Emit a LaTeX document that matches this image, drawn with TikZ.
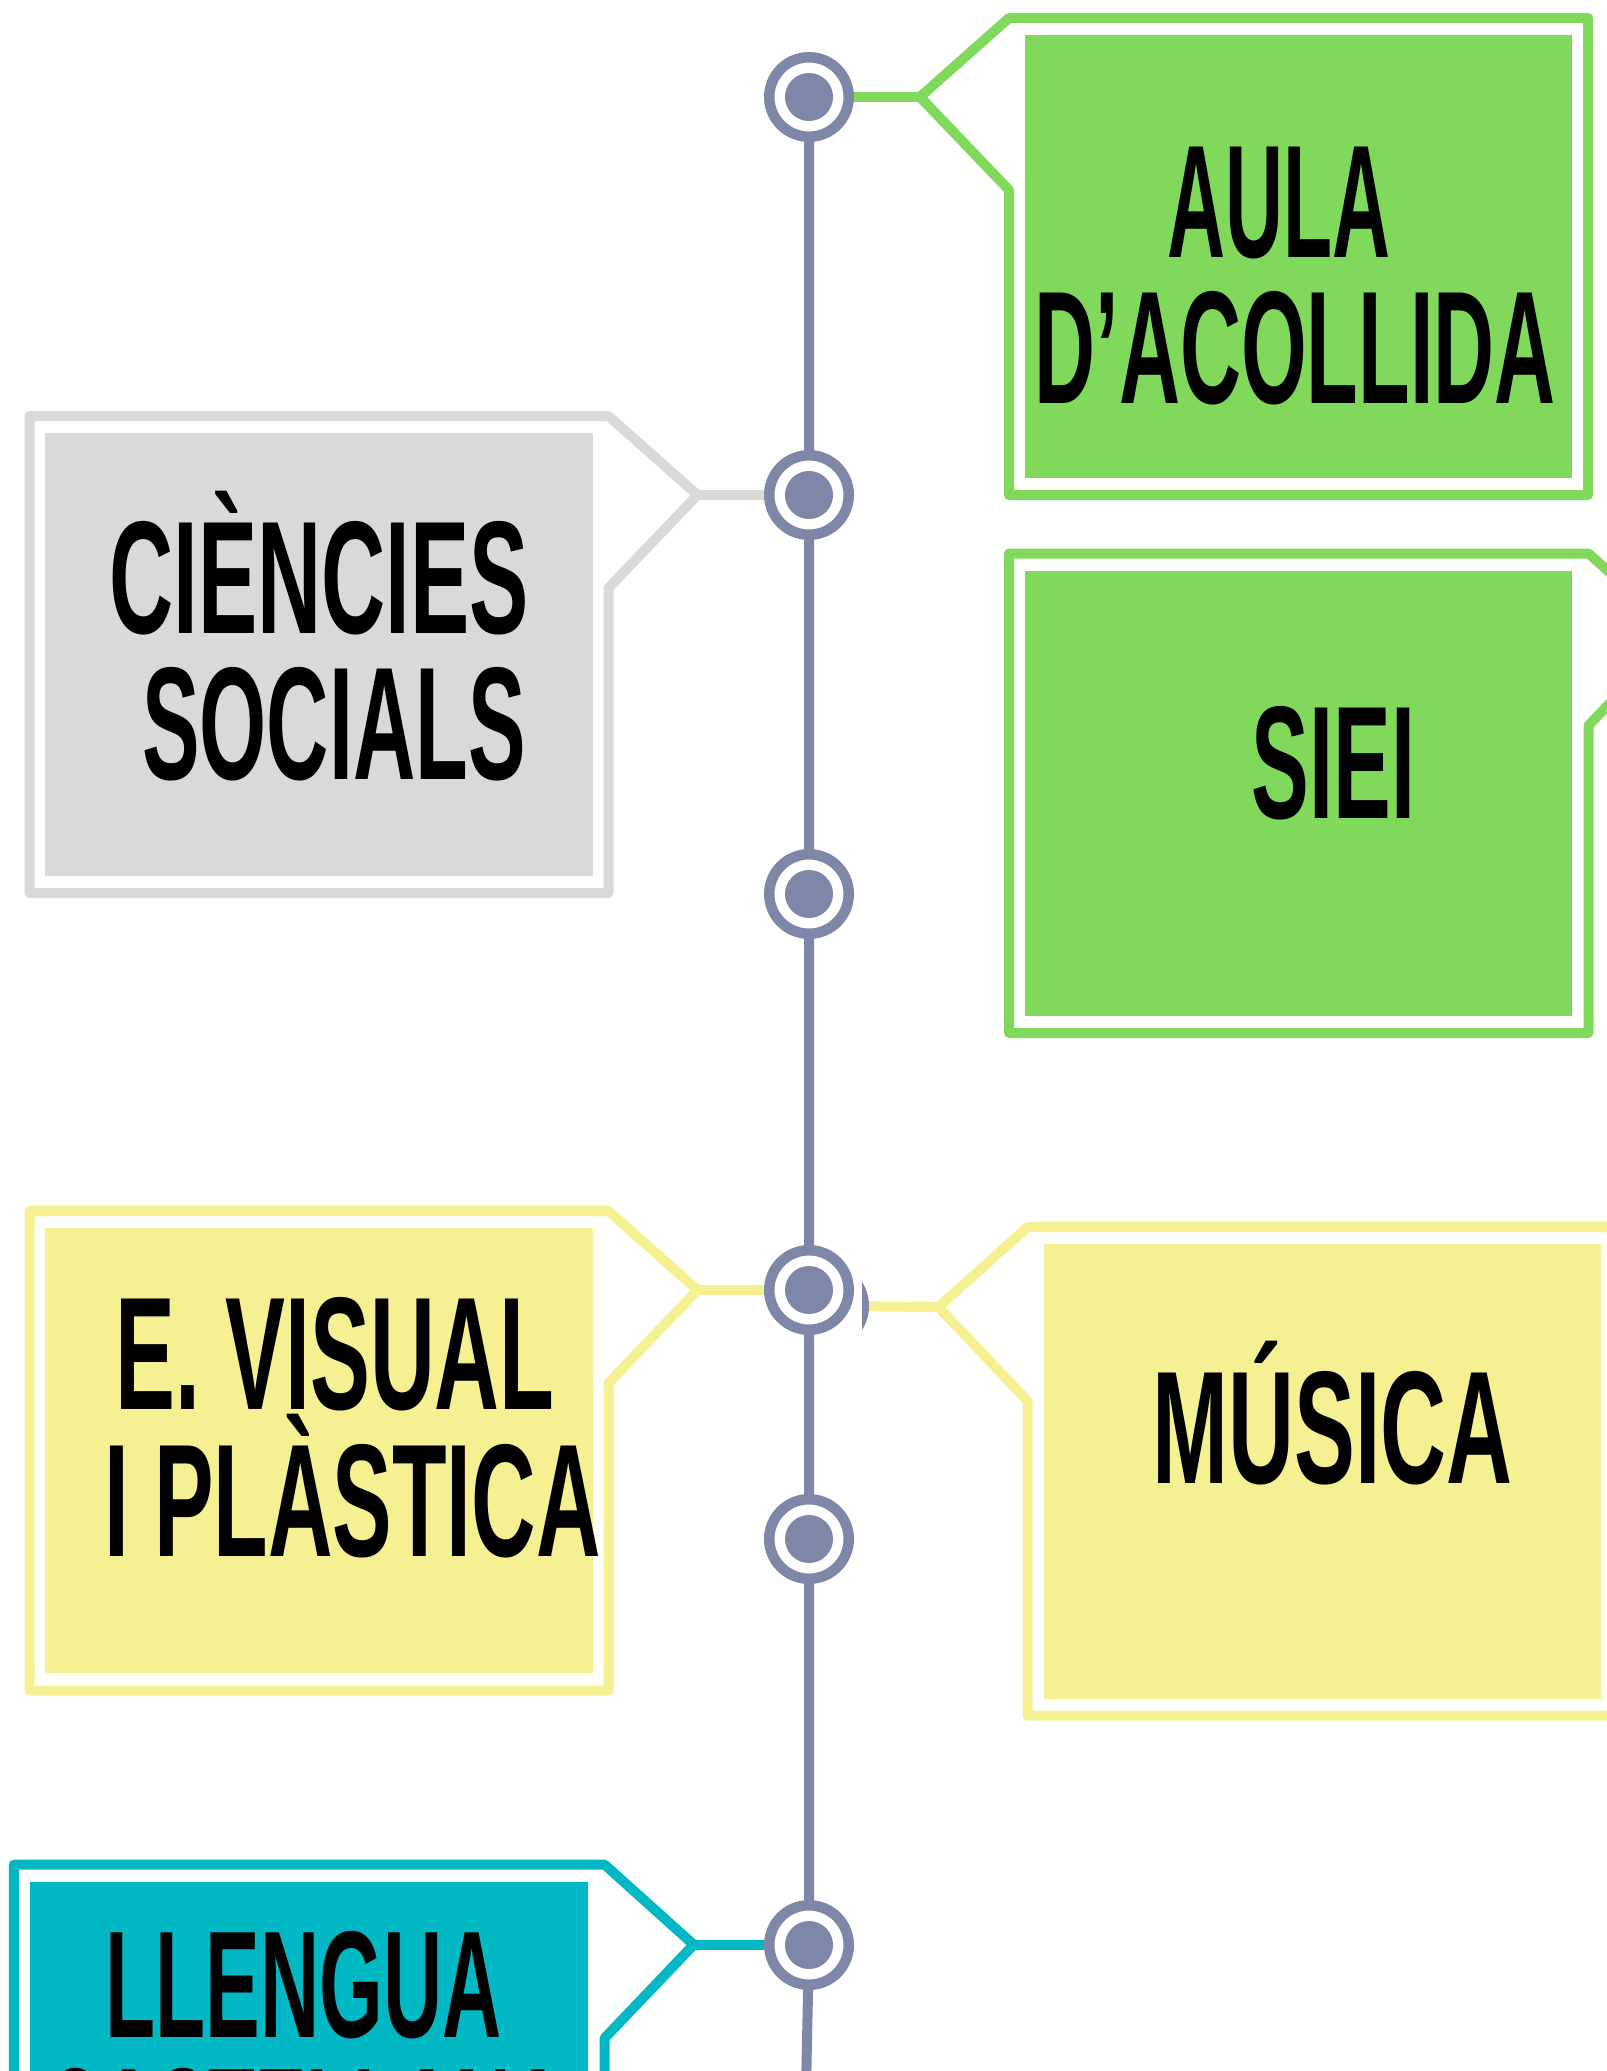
\documentclass[tikz,border=0pt]{standalone}
\usepackage{fontspec}
\setmainfont{Liberation Sans}
\usepackage{graphicx}
\pgfdeclarelayer{bg}
\pgfsetlayers{bg,main}
\definecolor{lineblue}{RGB}{127,135,168}
\definecolor{grn}{RGB}{128,217,90}
\definecolor{gry}{RGB}{217,217,217}
\definecolor{ylw}{RGB}{245,240,145}
\definecolor{tealc}{RGB}{2,184,196}
\newlength\pxu
\setlength\pxu{0.1mm}
\newcommand\capline[3][45.7pt]{\resizebox{#2\pxu}{\height}{\fontsize{#1}{#1}\selectfont\bfseries #3}}
\tikzset{
  ring/.style={circle, draw=lineblue, line width=1.05mm, fill=white, minimum size=7.95mm, inner sep=0pt,
    path picture={\fill[lineblue] (path picture bounding box.center) circle[radius=2.4mm];}},
  frame/.style={line width=1.0mm, line join=round},
  link/.style={line width=1.0mm},
  spine/.style={draw=lineblue, line width=1.0mm},
  lbl/.style={inner sep=0pt, anchor=base west, text=black},
}
\begin{document}
\begin{tikzpicture}[x=0.1mm, y=-0.1mm]
\useasboundingbox (0,0) rectangle (1606,2071);

% ---- boxes ----
% Aula d'acollida (green, right)
\draw[frame, draw=grn] (1588,18) -- (1009,18) -- (920,97) -- (1009,190) -- (1009,495) -- (1588,495) -- cycle;
\fill[grn] (1025,35) rectangle (1572,478);
\coordinate (t1) at (920,97);
\node[lbl] (a1) at (1167,257) {\capline{223}{AULA}};
\node[lbl] (a2) at (1034,403) {\capline{521}{D'ACOLLIDA}};

% Ciencies socials (gray, left)
\draw[frame, draw=gry] (29.5,416) -- (608.5,416) -- (697.5,495) -- (608.5,588) -- (608.5,893) -- (29.5,893) -- cycle;
\fill[gry] (45,433) rectangle (593,876);
\coordinate (t2) at (697.5,495);
\node[lbl] (b1) at (108.5,633) {\capline{419.5}{CIÈNCIES}};
\node[lbl] (b2) at (141.4,779) {\capline{383.6}{SOCIALS}};

% SIEI (green, right, pointer off page)
\draw[frame, draw=grn] (1009,553.5) -- (1588.5,553.5) -- (1677.5,632.5) -- (1588.5,725.5) -- (1588.5,1033) -- (1009,1033) -- cycle;
\fill[grn] (1025,571) rectangle (1572,1016);
\node[lbl] (s1) at (1251,818) {\capline{163.5}{SIEI}};

% E. Visual i plastica (yellow, left)
\draw[frame, draw=ylw] (29.5,1211) -- (608.5,1211) -- (697.5,1290) -- (608.5,1383) -- (608.5,1690.5) -- (29.5,1690.5) -- cycle;
\fill[ylw] (45,1228) rectangle (593,1673);
\coordinate (t4) at (697.5,1290);
\node[lbl] (e1) at (115,1409) {\capline{439}{E. VISUAL}};
\node[lbl] (e2) at (104,1556) {\capline{496}{I PLÀSTICA}};

% Musica (yellow, right)
\draw[frame, draw=ylw] (1618,1227) -- (1027.5,1227) -- (938.5,1307) -- (1027.5,1401) -- (1027.5,1715.5) -- (1618,1715.5) -- cycle;
\fill[ylw] (1044,1244) rectangle (1601,1699);
\coordinate (t5) at (938.5,1307);
\node[lbl] (m1) at (1152,1483) {\capline{360}{MÚSICA}};

% Llengua castellana (teal, left)
\draw[frame, draw=tealc] (13.8,1864.7) -- (604.7,1864.7) -- (693.7,1944.7) -- (604.7,2038) -- (604.7,2400) -- (13.8,2400) -- cycle;
\fill[tealc] (30,1881.7) rectangle (588.3,2400);
\coordinate (t6) at (693.7,1945);
\node[lbl] (l1) at (105,2037) {\capline[43.3pt]{396}{LLENGUA}};
\node[lbl] (l2) at (46,2174) {\capline[43.3pt]{519}{CASTELLANA}};

% ---- timeline circles ----
\node[ring] (c1) at (809,97) {};
\node[ring] (c2) at (809,495) {};
\node[ring] (c3) at (809,894) {};
\node[ring] (c4) at (809,1290) {};
\node[ring] (c5) at (809,1539) {};
\node[ring] (c6) at (809,1945) {};
\coordinate (bot) at (806,2090);
\coordinate (c4b) at (824,1306);
\begin{scope}
  \clip (862,1240) rectangle (1000,1370);
  \node[ring] (c4x) at (c4b) {};
\end{scope}

% ---- connectors (behind) ----
\begin{pgfonlayer}{bg}
  \draw[spine] (c1.center) -- (c2.center) -- (c3.center) -- (c4.center) -- (c5.center) -- (c6.center) -- (bot);
  \draw[link, draw=grn] (t1) -- (c1);
  \draw[link, draw=gry] (t2) -- (c2);
  \draw[link, draw=ylw] (t4) -- (c4);
  \draw[link, draw=tealc] (t6) -- (c6);
  \begin{scope}
    \clip (862,1240) rectangle (1000,1370);
    \draw[link, draw=ylw] (t5) -- (c4x.center);
  \end{scope}
\end{pgfonlayer}
\end{tikzpicture}
\end{document}
